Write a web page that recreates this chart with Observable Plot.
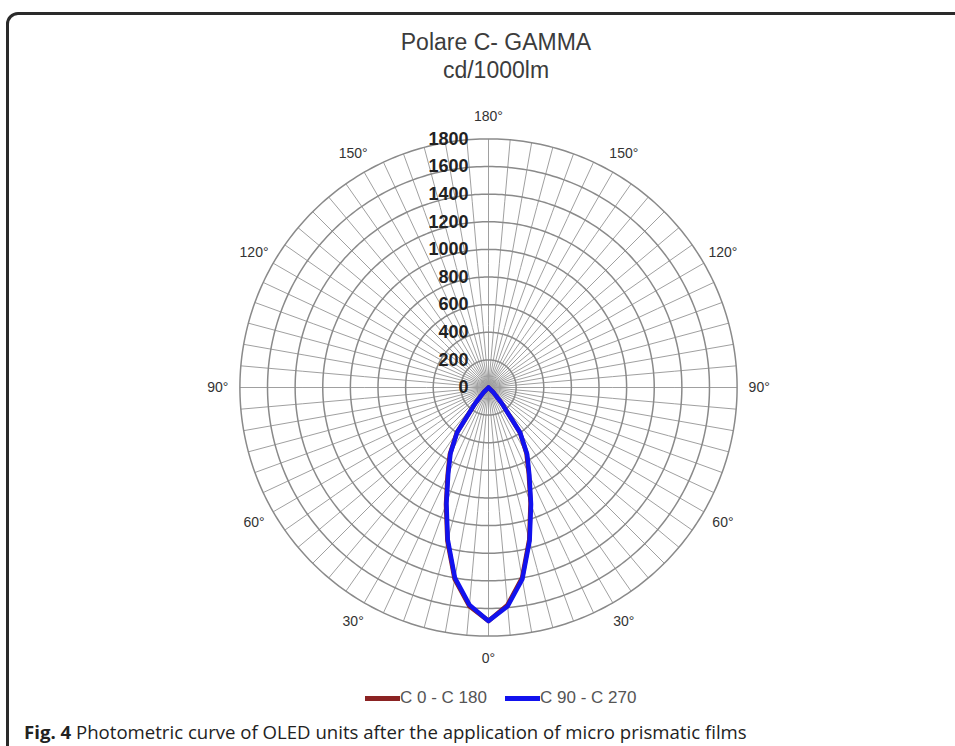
<!DOCTYPE html>
<html>
<head>
<meta charset="utf-8">
<script src="https://cdn.jsdelivr.net/npm/d3@7"></script>
<script src="https://cdn.jsdelivr.net/npm/@observablehq/plot@0.6"></script>
<style>
  html, body { margin: 0; padding: 0; background: #fff; }
  body { width: 955px; height: 746px; overflow: hidden; position: relative; font-family: "Liberation Sans", Arial, sans-serif; }
  #frame { position: absolute; left: 6px; top: 12px; width: 1000px; height: 800px; border: 3px solid #2a2a2a; border-radius: 12px; box-sizing: border-box; }
  #title { position: absolute; left: 0; top: 28px; width: 992px; text-align: center; font-size: 23px; line-height: 28px; color: #3c3c3c; }
  #chart { position: absolute; left: 0; top: 84px; }
  .leg { position: absolute; top: 688px; height: 20px; display: flex; align-items: center; font-size: 17px; color: #555; white-space: nowrap; }
  .leg .sw { display: inline-block; width: 35px; height: 5px; }
  #caption { position: absolute; left: 24px; top: 720px; font-family: "Open Sans", sans-serif; font-size: 18.6px; line-height: 24px; color: #222; white-space: nowrap; }
</style>
</head>
<body>
<div id="frame"></div>
<div id="title"></div>
<div id="chart"></div>
<div id="legend"></div>
<div id="caption"></div>
<script>
// ---- data (gamma angle in degrees, luminous intensity in cd/1000lm) ----
const gammaAngles = [0, 5, 10, 15, 20, 25, 30, 35, 40, 45, 50, 55, 60, 65, 70, 75, 80, 85, 90,
  95, 100, 105, 110, 115, 120, 125, 130, 135, 140, 145, 150, 155, 160, 165, 170, 175, 180];
const c90Values  = [1690, 1590, 1410, 1150, 900, 700, 560, 400, 150, 50, 0, 0, 0, 0, 0, 0, 0, 0, 0,
  0, 0, 0, 0, 0, 0, 0, 0, 0, 0, 0, 0, 0, 0, 0, 0, 0, 0];
const c270Values = [1690, 1580, 1400, 1140, 890, 690, 550, 395, 150, 50, 0, 0, 0, 0, 0, 0, 0, 0, 0,
  0, 0, 0, 0, 0, 0, 0, 0, 0, 0, 0, 0, 0, 0, 0, 0, 0, 0];
const c0Values   = [1690, 1580, 1400, 1140, 890, 690, 550, 395, 150, 50, 0, 0, 0, 0, 0, 0, 0, 0, 0,
  0, 0, 0, 0, 0, 0, 0, 0, 0, 0, 0, 0, 0, 0, 0, 0, 0, 0];
const c180Values = [1690, 1590, 1410, 1150, 900, 700, 560, 400, 150, 50, 0, 0, 0, 0, 0, 0, 0, 0, 0,
  0, 0, 0, 0, 0, 0, 0, 0, 0, 0, 0, 0, 0, 0, 0, 0, 0, 0];

const seriesNames = ["C 0 - C 180", "C 90 - C 270"];
const seriesColors = ["#8b2323", "#1212ee"];
const radiusTicks = [0, 200, 400, 600, 800, 1000, 1200, 1400, 1600, 1800];
const angleTicks = [0, 30, 60, 90, 120, 150, 180];
const spokeStep = 5;
const maxIntensity = 1800;
const labelRadius = 1960;

const titleLines = ["Polare C- GAMMA", "cd/1000lm"];
const captionBold = "Fig. 4";
const captionText = " Photometric curve of OLED units after the application of micro prismatic films";

// ---- build tables ----
const toLat = (v) => 90 - v * 90 / maxIntensity;   // radial distance -> angular distance from pole
function curve(name, leftVals, rightVals) {
  const left = gammaAngles.map((g, i) => ({series: name, lon: -g, I: leftVals[i]})).reverse();
  const right = gammaAngles.map((g, i) => ({series: name, lon: g, I: rightVals[i]}));
  return left.concat(right);
}
const curves = [
  ...curve(seriesNames[0], c180Values, c0Values),
  ...curve(seriesNames[1], c270Values, c90Values)
];
const rings = radiusTicks.filter((v) => v > 0).map((v) =>
  d3.geoCircle().center([0, 90]).radius(90 - toLat(v)).precision(1)());
const spokes = d3.range(0, 360, spokeStep);
const angleLabels = [
  ...angleTicks.map((a) => ({lon: a, text: a + "°"})),
  ...angleTicks.filter((a) => a > 0 && a < 180).map((a) => ({lon: -a, text: a + "°"}))
];

// ---- chart ----
const W = 955, H = 586, R = 248.6, cx = 488, cy = 303;
const chart = Plot.plot({
  width: W,
  height: H,
  marginLeft: cx - R,
  marginRight: W - cx - R,
  marginTop: cy - R,
  marginBottom: H - cy - R,
  style: {fontFamily: "'Liberation Sans', Arial, sans-serif", background: "transparent"},
  projection: {
    type: "azimuthal-equidistant",
    rotate: [0, -90],
    clip: false,
    domain: d3.geoCircle().center([0, 90]).radius(90).precision(1)()
  },
  marks: [
    Plot.link(spokes, {x1: (d) => d, y1: () => 90, x2: (d) => d, y2: () => toLat(maxIntensity), stroke: "#a0a0a0", strokeWidth: 1}),
    Plot.geo(rings, {fill: "none", stroke: "#8a8a8a", strokeWidth: 1.5}),
    Plot.line(curves, {x: "lon", y: (d) => toLat(d.I), z: "series", stroke: (d) => seriesColors[seriesNames.indexOf(d.series)], strokeWidth: 4.5, curve: "linear", strokeLinejoin: "round"}),
    Plot.text(radiusTicks, {x: () => 180, y: (d) => toLat(d), text: (d) => String(d), textAnchor: "end", dx: -20, fontWeight: "bold", fontSize: 18, fill: "#222"}),
    Plot.text(angleLabels, {x: "lon", y: () => toLat(labelRadius), text: "text", fontSize: 14, fill: "#333", fontFamily: "'Liberation Sans Narrow', 'Liberation Sans', Arial, sans-serif"})
  ]
});
document.getElementById("chart").appendChild(chart);

// ---- title ----
document.getElementById("title").innerHTML = titleLines.join("<br>");

// ---- legend ----
const legendLefts = [365, 505];
seriesNames.forEach((name, i) => {
  const item = document.createElement("div");
  item.className = "leg";
  item.style.left = legendLefts[i] + "px";
  item.innerHTML = `<span class="sw" style="background:${seriesColors[i]}"></span><span>${name}</span>`;
  document.body.appendChild(item);
});

// ---- caption ----
document.getElementById("caption").innerHTML = `<b>${captionBold}</b>${captionText}`;
</script>
</body>
</html>
